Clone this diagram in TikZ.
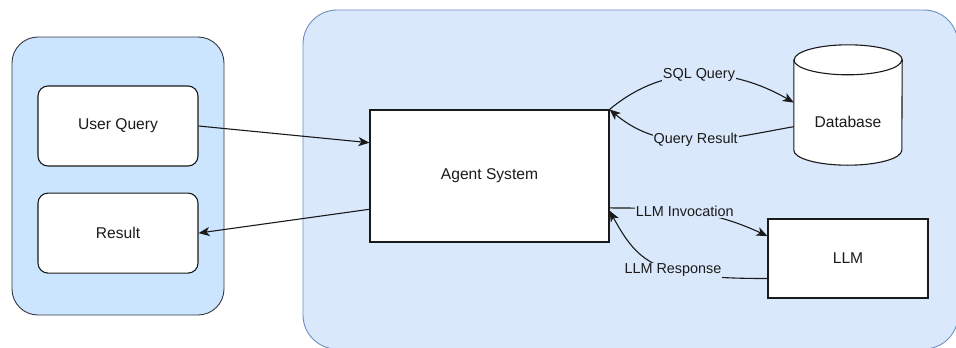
\documentclass[tikz,border=0pt]{standalone}
\usepackage{fontspec}
\setmainfont{Liberation Sans}
\usetikzlibrary{arrows.meta,positioning,calc}
\definecolor{clientFill}{HTML}{CCE5FF}
\definecolor{clientLine}{HTML}{36393D}
\definecolor{sysFill}{HTML}{DAE8FC}
\definecolor{sysLine}{HTML}{6C8EBF}
\definecolor{inkDark}{HTML}{1A1A1A}

\begin{document}
\begin{tikzpicture}[
  x=1pt,y=-1pt,
  font=\fontsize{15.6}{18}\selectfont,
  box/.style={draw=inkDark,line width=1.1pt,fill=white,text=inkDark,align=center},
  card/.style={box,rounded corners=10pt,minimum width=160pt,minimum height=80pt},
  rim/.style={x radius=54pt,y radius=15pt},
  arr/.style={-{Stealth[length=11pt,width=9pt,inset=3pt]},line width=1.1pt,inkDark},
  lbl/.style={fill=sysFill,inner sep=1pt,text=inkDark,font=\fontsize{14.4}{17}\selectfont}
]
\useasboundingbox (0,0) rectangle (956,348);
\clip (0,0) rectangle (956,348);
% containers
\node[draw=clientLine,fill=clientFill,line width=0.9pt,rounded corners=26pt,
  minimum width=212pt,minimum height=278pt] (client) at (118,176) {};
\node[draw=sysLine,fill=sysFill,line width=0.9pt,rounded corners=34pt,
  minimum width=655pt,minimum height=339pt] (sys) at (630.5,179.5) {};
% left side
\node[card] (uq) at (118,126) {User Query};
\node[card,below=26pt of uq] (res) {Result};
% agent and tools
\node[box,minimum width=239pt,minimum height=132pt] (agent) at (489.5,176) {Agent System};
\node[minimum width=108pt,minimum height=120pt,inner sep=0pt] (db) at (848,105) {};
\draw[box] ([yshift=-15pt]db.north west) -- ([yshift=15pt]db.south west)
  arc[start angle=180,end angle=360,rim] -- ([yshift=-15pt]db.north east)
  arc[start angle=0,end angle=180,rim] -- cycle;
\draw[box,fill=none] ([yshift=-15pt]db.north west) arc[start angle=180,end angle=360,rim];
\node[text=inkDark] (dbname) at ($(db.center)+(0,17)$) {Database};
\node[box,minimum width=160pt,minimum height=79pt] (llm) at (848,258.5) {LLM};
% requests and replies
\draw[arr] (uq.east) -- ($(agent.north west)!0.25!(agent.south west)$);
\draw[arr] ($(agent.north west)!0.75!(agent.south west)$) -- (res.east);
\draw[arr] (agent.north east) to[out=40,in=150]
  node[lbl,pos=0.5] {SQL Query} ($(db.north west)!0.48!(db.south west)$);
\draw[arr] ($(db.north west)!0.68!(db.south west)$) to[out=190,in=-40]
  node[lbl,pos=0.5] {Query Result} (agent.north east);
\draw[arr] ($(agent.north east)!0.74!(agent.south east)$) to[out=0,in=155]
  node[lbl,pos=0.46] {LLM Invocation} ($(llm.north west)!0.22!(llm.south west)$);
\draw[arr] ($(llm.north west)!0.75!(llm.south west)$) .. controls +(-110,0) and +(30,55) ..
  node[lbl,pos=0.4] {LLM Response} ($(agent.north east)!0.76!(agent.south east)$);
\end{tikzpicture}
\end{document}
